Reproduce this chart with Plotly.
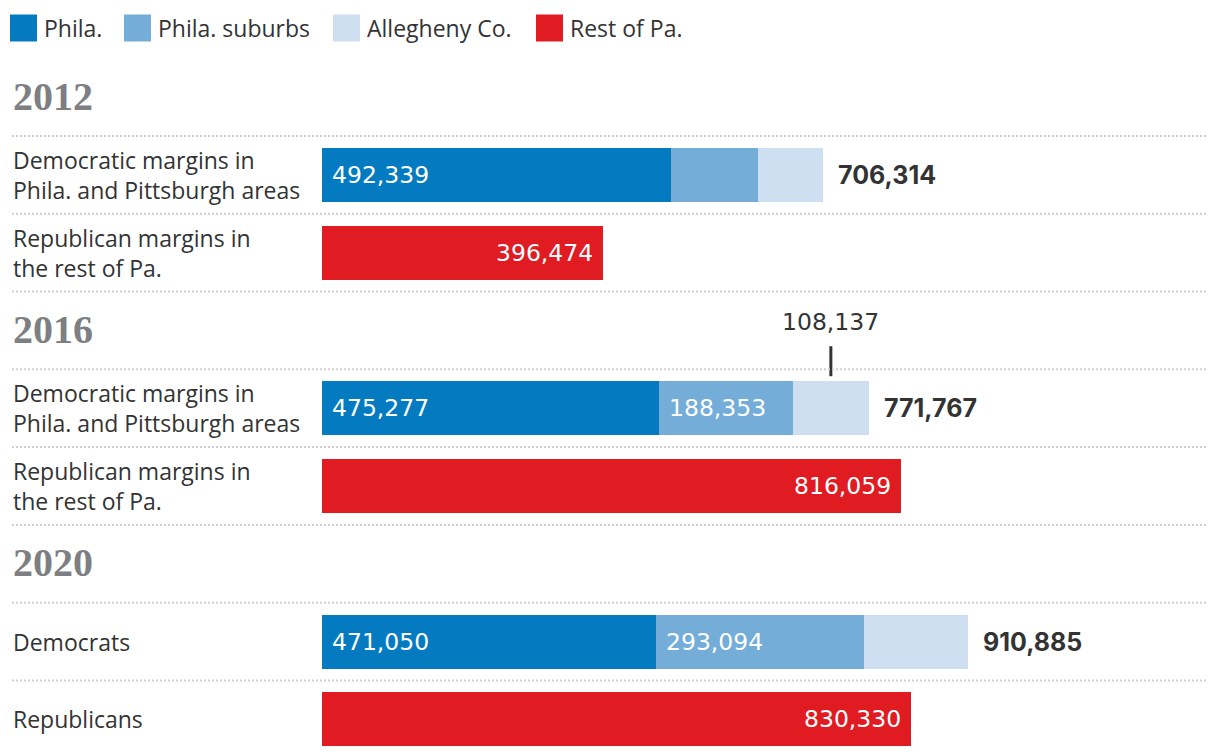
import plotly.graph_objects as go

# ---------------- data ----------------
years = ["2012", "2016", "2020"]
dem_labels = ["Democratic margins in<br>Phila. and Pittsburgh areas",
              "Democratic margins in<br>Phila. and Pittsburgh areas",
              "Democrats"]
rep_labels = ["Republican margins in<br>the rest of Pa.",
              "Republican margins in<br>the rest of Pa.",
              "Republicans"]
phila = [492339, 475277, 471050]
suburbs = [122000, 188353, 293094]
allegheny = [91975, 108137, 146741]
rest = [396474, 816059, 830330]
dem_total = [706314, 771767, 910885]
show_suburbs_label = [False, True, True]
show_allegheny_callout = [False, True, False]
legend_names = ["Phila.", "Phila. suburbs", "Allegheny Co.", "Rest of Pa."]

# ---------------- style ----------------
W, H = 1220, 756
colors = ["#047bc1", "#74add8", "#cddff0", "#e11b22"]
TEXT = "#333333"
HEAD = "#7d7f82"
SANS = "Open Sans, Roboto, sans-serif"
NUM = "DejaVu Sans, Open Sans, sans-serif"
BOLD = "Inter, Roboto, sans-serif"
SERIF = "Liberation Serif, serif"
PX_PER_UNIT = 0.000709
PLOT_X0 = 322          # pixel where value 0 sits
ROW_PX = 77.8          # pixel height of one row slot
FIRST_ROW_PX = 97      # pixel centre of first row slot
BAR_PX = 54

rows = []
for y in years:
    rows += ["h" + y, "d" + y, "r" + y]
n_rows = len(rows)

dem_cats = ["d" + y for y in years]
rep_cats = ["r" + y for y in years]

fig = go.Figure()
bar_w = BAR_PX / ROW_PX
for name, vals, col, cats in [
    (legend_names[0], phila, colors[0], dem_cats),
    (legend_names[1], suburbs, colors[1], dem_cats),
    (legend_names[2], allegheny, colors[2], dem_cats),
    (legend_names[3], rest, colors[3], rep_cats),
]:
    fig.add_trace(go.Bar(y=cats, x=vals, orientation="h", name=name,
                         marker=dict(color=col, line=dict(width=0)),
                         width=[bar_w] * len(cats), hoverinfo="skip",
                         showlegend=False))

ann = []
shapes = []
xl = 11 / W
lab_font = dict(family=SANS, size=23, color=TEXT)
val_font = dict(family=NUM, size=23.5, color="white")
for i, y in enumerate(years):
    # year headers
    ann.append(dict(x=xl, xref="paper", y="h" + y, yref="y", text=y,
                    xanchor="left", yanchor="middle", showarrow=False, yshift=1,
                    font=dict(family=SERIF, size=40, color=HEAD, weight="bold")))
    # row labels
    ann.append(dict(x=xl, xref="paper", y="d" + y, yref="y", text=dem_labels[i],
                    xanchor="left", yanchor="middle", align="left", showarrow=False,
                    font=lab_font))
    ann.append(dict(x=xl, xref="paper", y="r" + y, yref="y", text=rep_labels[i],
                    xanchor="left", yanchor="middle", align="left", showarrow=False,
                    font=lab_font))
    # inside values
    ann.append(dict(x=0, y="d" + y, text=f"{phila[i]:,}", xanchor="left", xshift=8,
                    showarrow=False, font=val_font))
    if show_suburbs_label[i]:
        ann.append(dict(x=phila[i], y="d" + y, text=f"{suburbs[i]:,}", xanchor="left",
                        xshift=8, showarrow=False, font=val_font))
    ann.append(dict(x=rest[i], y="r" + y, text=f"{rest[i]:,}", xanchor="right",
                    xshift=-8, showarrow=False, font=val_font))
    # totals
    ann.append(dict(x=dem_total[i], y="d" + y, text=f"{dem_total[i]:,}",
                    xanchor="left", xshift=13, showarrow=False,
                    font=dict(family=BOLD, size=25, color=TEXT, weight="bold")))
    if show_allegheny_callout[i]:
        xc = phila[i] + suburbs[i] + allegheny[i] / 2
        di = rows.index("d" + y)
        ann.append(dict(x=xc, y=di - 86 / ROW_PX, text=f"{allegheny[i]:,}",
                        xanchor="center", yanchor="middle", showarrow=False,
                        font=dict(family=NUM, size=23.5, color=TEXT)))
        shapes.append(dict(type="line", xref="x", yref="y", x0=xc, x1=xc,
                           y0=di - 62 / ROW_PX, y1=di - 32 / ROW_PX,
                           line=dict(color=TEXT, width=3)))

# dotted separators
for k in range(n_rows - 1):
    shapes.append(dict(type="line", xref="paper", yref="y", x0=12 / W, x1=1208 / W,
                       y0=k + 0.5, y1=k + 0.5,
                       line=dict(color="#cfcfcf", width=2, dash="2px,2px")))

# manual legend
leg_x = [10, 124, 333, 536]
sq = 27
leg_cy = 28
for name, col, lx in zip(legend_names, colors, leg_x):
    shapes.append(dict(type="rect", xref="paper", yref="paper",
                       x0=lx / W, x1=(lx + sq) / W,
                       y0=1 - (leg_cy + sq / 2) / H, y1=1 - (leg_cy - sq / 2) / H,
                       fillcolor=col, line=dict(width=0)))
    ann.append(dict(x=(lx + sq + 5) / W, xref="paper", y=1 - leg_cy / H, yref="paper",
                    text=name, xanchor="left", yanchor="middle", showarrow=False,
                    font=lab_font))

y_top = -FIRST_ROW_PX / ROW_PX
y_bot = (H - FIRST_ROW_PX) / ROW_PX
fig.update_layout(
    width=W, height=H, margin=dict(l=0, r=0, t=0, b=0),
    paper_bgcolor="white", plot_bgcolor="white",
    barmode="stack", showlegend=False,
    xaxis=dict(range=[-PLOT_X0 / PX_PER_UNIT, (W - PLOT_X0) / PX_PER_UNIT],
               visible=False, fixedrange=True),
    yaxis=dict(type="category", categoryorder="array", categoryarray=rows,
               range=[y_bot, y_top], visible=False, fixedrange=True),
    annotations=ann, shapes=shapes,
)

fig.write_html("out.html", config={"displayModeBar": False},
               post_script="document.body.style.margin='0';")
